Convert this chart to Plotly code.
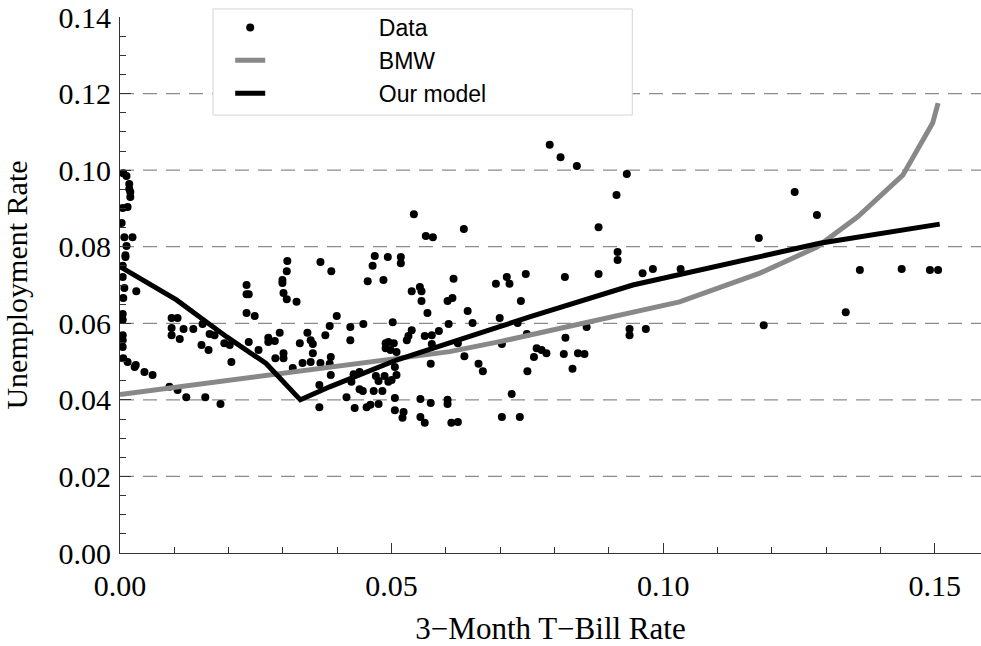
import plotly.graph_objects as go

# scatter data (3-month T-bill rate, unemployment rate)
DATA_X = [
    0.0006, 0.0012, 0.0017, 0.0017, 0.0019, 0.0019, 0.0005, 0.0014, 0.0003, 0.0008,
    0.0023, 0.0012, 0.0010, 0.0010, 0.0005, 0.0005, 0.0008, 0.0030, 0.0006, 0.0005,
    0.0005, 0.0005, 0.0005, 0.0005, 0.0006, 0.0014, 0.0029, 0.0027, 0.0045, 0.0060,
    0.0091, 0.0106, 0.0122, 0.0157, 0.0185, 0.0095, 0.0106, 0.0095, 0.0117, 0.0135,
    0.0152, 0.0095, 0.0110, 0.0165, 0.0174, 0.0150, 0.0163, 0.0192, 0.0202, 0.0205,
    0.0233, 0.0233, 0.0237, 0.0233, 0.0248, 0.0237, 0.0255, 0.0273, 0.0273, 0.0285,
    0.0294, 0.0286, 0.0301, 0.0301, 0.0308, 0.0307, 0.0299, 0.0299, 0.0301, 0.0307,
    0.0325, 0.0318, 0.0331, 0.0345, 0.0351, 0.0355, 0.0336, 0.0351, 0.0355, 0.0369,
    0.0389, 0.0369, 0.0386, 0.0388, 0.0388, 0.0386, 0.0378, 0.0399, 0.0367, 0.0367,
    0.0424, 0.0424, 0.0448, 0.0417, 0.0430, 0.0426, 0.0441, 0.0441, 0.0447, 0.0432,
    0.0454, 0.0461, 0.0467, 0.0483, 0.0476, 0.0471, 0.0476, 0.0487, 0.0494, 0.0500,
    0.0509, 0.0506, 0.0489, 0.0494, 0.0504, 0.0489, 0.0498, 0.0509, 0.0506, 0.0506,
    0.0522, 0.0520, 0.0502, 0.0469, 0.0465, 0.0493, 0.0517, 0.0517, 0.0456, 0.0485,
    0.0541, 0.0563, 0.0576, 0.0633, 0.0537, 0.0552, 0.0555, 0.0555, 0.0614, 0.0603,
    0.0612, 0.0566, 0.0640, 0.0649, 0.0605, 0.0528, 0.0531, 0.0537, 0.0561, 0.0574,
    0.0587, 0.0574, 0.0572, 0.0553, 0.0553, 0.0561, 0.0572, 0.0603, 0.0603, 0.0610,
    0.0622, 0.0634, 0.0660, 0.0668, 0.0622, 0.0692, 0.0712, 0.0717, 0.0747, 0.0738,
    0.0699, 0.0732, 0.0703, 0.0749, 0.0721, 0.0703, 0.0736, 0.0750, 0.0767, 0.0776,
    0.0785, 0.0762, 0.0791, 0.0811, 0.0841, 0.0933, 0.0914, 0.0881, 0.0916, 0.0916,
    0.0881, 0.0819, 0.0859, 0.0820, 0.0817, 0.0843, 0.0855, 0.0833, 0.0938, 0.0938,
    0.0968, 0.0962, 0.0981, 0.1032, 0.1176, 0.1185, 0.1242, 0.1283, 0.1336, 0.1362,
    0.1439, 0.1491, 0.1506,
]
DATA_Y = [
    0.0992, 0.0985, 0.0964, 0.0951, 0.0943, 0.0930, 0.0901, 0.0904, 0.0862, 0.0825,
    0.0825, 0.0802, 0.0778, 0.0773, 0.0750, 0.0721, 0.0692, 0.0684, 0.0666, 0.0624,
    0.0609, 0.0569, 0.0556, 0.0538, 0.0509, 0.0499, 0.0491, 0.0486, 0.0473, 0.0465,
    0.0434, 0.0426, 0.0407, 0.0407, 0.0389, 0.0614, 0.0614, 0.0588, 0.0585, 0.0585,
    0.0598, 0.0569, 0.0559, 0.0572, 0.0569, 0.0543, 0.0530, 0.0548, 0.0543, 0.0499,
    0.0700, 0.0676, 0.0676, 0.0627, 0.0619, 0.0551, 0.0530, 0.0562, 0.0551, 0.0554,
    0.0575, 0.0509, 0.0522, 0.0509, 0.0763, 0.0736, 0.0713, 0.0705, 0.0679, 0.0663,
    0.0656, 0.0483, 0.0548, 0.0575, 0.0556, 0.0546, 0.0496, 0.0499, 0.0522, 0.0760,
    0.0736, 0.0496, 0.0494, 0.0512, 0.0465, 0.0593, 0.0569, 0.0619, 0.0439, 0.0381,
    0.0590, 0.0556, 0.0598, 0.0407, 0.0467, 0.0447, 0.0473, 0.0428, 0.0423, 0.0379,
    0.0381, 0.0387, 0.0423, 0.0423, 0.0389, 0.0462, 0.0449, 0.0462, 0.0447, 0.0452,
    0.0465, 0.0486, 0.0548, 0.0551, 0.0548, 0.0535, 0.0530, 0.0525, 0.0405, 0.0373,
    0.0368, 0.0353, 0.0603, 0.0776, 0.0750, 0.0773, 0.0773, 0.0757, 0.0710, 0.0713,
    0.0885, 0.0828, 0.0825, 0.0846, 0.0684, 0.0695, 0.0684, 0.0658, 0.0716, 0.0658,
    0.0666, 0.0627, 0.0632, 0.0601, 0.0598, 0.0556, 0.0567, 0.0582, 0.0567, 0.0569,
    0.0580, 0.0546, 0.0494, 0.0402, 0.0355, 0.0340, 0.0392, 0.0400, 0.0389, 0.0340,
    0.0342, 0.0514, 0.0494, 0.0475, 0.0548, 0.0703, 0.0721, 0.0703, 0.0729, 0.0658,
    0.0614, 0.0601, 0.0546, 0.0572, 0.0415, 0.0355, 0.0355, 0.0475, 0.0535, 0.0530,
    0.0522, 0.0512, 0.1066, 0.1034, 0.1011, 0.0990, 0.0935, 0.0851, 0.0786, 0.0765,
    0.0729, 0.0721, 0.0590, 0.0562, 0.0520, 0.0522, 0.0520, 0.0481, 0.0585, 0.0569,
    0.0585, 0.0731, 0.0742, 0.0742, 0.0823, 0.0595, 0.0943, 0.0883, 0.0629, 0.0739,
    0.0742, 0.0739, 0.0739,
]

BMW_X = [0, 0.02, 0.0423, 0.0607, 0.0699, 0.0938, 0.103, 0.1178, 0.1283, 0.1358, 0.1441, 0.1496, 0.1506]
BMW_Y = [0.0414, 0.0450, 0.0491, 0.0526, 0.0552, 0.0626, 0.0656, 0.0731, 0.0799, 0.0878, 0.0987, 0.1123, 0.1175]

MODEL_X = [0, 0.0104, 0.0146, 0.0196, 0.0269, 0.0332, 0.0386, 0.0509, 0.0699, 0.0754, 0.0944, 0.119, 0.1288, 0.1509]
MODEL_Y = [0.0748, 0.0661, 0.0617, 0.0565, 0.0495, 0.0400, 0.0434, 0.0504, 0.0591, 0.0617, 0.0700, 0.0778, 0.0809, 0.0859]

GRID_Y = [0.02, 0.04, 0.06, 0.08, 0.10, 0.12]

SERIF = "Liberation Serif, Times New Roman, serif"
SANS = "Liberation Sans, Arial, sans-serif"
AXIS_COLOR = "#333333"
PAD = "\u00a0" * 17   # pushes legend labels away from their symbols

fig = go.Figure()
fig.add_trace(go.Scatter(x=DATA_X, y=DATA_Y, mode="markers", name=PAD + "Data",
                         marker=dict(color="black", size=8)))
fig.add_trace(go.Scatter(x=BMW_X, y=BMW_Y, mode="lines", name=PAD + "BMW",
                         line=dict(color="#888888", width=5)))
fig.add_trace(go.Scatter(x=MODEL_X, y=MODEL_Y, mode="lines", name=PAD + "Our model",
                         line=dict(color="black", width=5)))

for g in GRID_Y:
    fig.add_hline(y=g, line=dict(color="#8c8c8c", width=1.2, dash="14px,9px"), layer="below")

# legend frame: white box over the grid, the legend itself is drawn on top
fig.add_shape(type="rect", xref="paper", yref="paper", x0=0.108, x1=0.595, y0=0.817, y1=1.015,
              line=dict(color="#d4d4d4", width=1), fillcolor="white", layer="above")

fig.update_layout(
    width=981, height=646,
    margin=dict(l=120, r=0, t=17, b=93),
    plot_bgcolor="white", paper_bgcolor="white",
    font=dict(family=SERIF, color="black"),
    showlegend=True,
    legend=dict(x=0.128, y=1.0205, xanchor="left", yanchor="top",
                bgcolor="rgba(0,0,0,0)", borderwidth=0,
                font=dict(family=SANS, size=23, color="black"),
                tracegroupgap=0),
    xaxis=dict(range=[0, 0.1585], dtick=0.05, tickformat=".2f",
               ticks="inside", ticklen=10, tickwidth=1, tickcolor=AXIS_COLOR,
               minor=dict(dtick=0.01, ticks="inside", ticklen=6, tickcolor=AXIS_COLOR),
               showline=True, linecolor=AXIS_COLOR, linewidth=1,
               showgrid=False, zeroline=False, ticklabelstandoff=6,
               ticklabeloverflow="allow", automargin=False,
               tickfont=dict(family=SERIF, size=30),
               title=dict(text="3\u2212Month T\u2212Bill Rate", font=dict(family=SERIF, size=31), standoff=16)),
    yaxis=dict(range=[0, 0.1400001], dtick=0.02, tickformat=".2f",
               ticks="inside", ticklen=11, tickwidth=1, tickcolor=AXIS_COLOR,
               minor=dict(dtick=0.005, ticks="inside", ticklen=6, tickcolor=AXIS_COLOR),
               showline=True, linecolor=AXIS_COLOR, linewidth=1,
               showgrid=False, zeroline=False, ticklabelstandoff=2,
               ticklabeloverflow="allow", automargin=False,
               tickfont=dict(family=SERIF, size=30),
               title=dict(text="Unemployment Rate", font=dict(family=SERIF, size=30), standoff=22)),
)

# drop the default page margin so the 981x646 figure fills the window exactly
fig.write_html("out.html", config={"displayModeBar": False},
               post_script="document.body.style.margin = '0';")
